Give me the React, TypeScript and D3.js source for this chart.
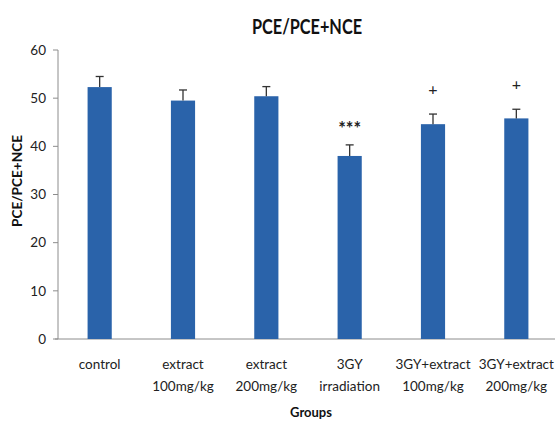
import React, { useEffect, useRef } from "react"
import * as d3 from "d3"

const groups = ["control", "extract 100mg/kg", "extract 200mg/kg", "3GY irradiation", "3GY+extract 100mg/kg", "3GY+extract 200mg/kg"]
const labelLines = [["control"], ["extract", "100mg/kg"], ["extract", "200mg/kg"], ["3GY", "irradiation"], ["3GY+extract", "100mg/kg"], ["3GY+extract", "200mg/kg"]]
const means = [52.3, 49.5, 50.4, 38.0, 44.6, 45.8]
const errors = [2.2, 2.2, 2.0, 2.3, 2.1, 1.9]
const marks = ["", "", "", "***", "+", "+"]
const yTicks = [0, 10, 20, 30, 40, 50, 60]

const W = 555
const H = 421
const font = "Lato, 'Open Sans', sans-serif"

export default function App() {
    const ref = useRef<SVGSVGElement>(null)

    useEffect(() => {
        const svg = d3.select(ref.current)
        svg.selectAll("*").remove()

        const left = 58
        const y = d3.scaleLinear().domain([0, 60]).range([339, 50])
        const x = d3.scaleBand().domain(groups).range([left, 558]).paddingInner(0.71).paddingOuter(0.355)

        svg.append("text")
            .attr("x", 307).attr("y", 34)
            .attr("text-anchor", "middle")
            .attr("font-family", font).attr("font-weight", "bold").attr("font-size", 20)
            .attr("textLength", 110).attr("lengthAdjust", "spacingAndGlyphs")
            .attr("fill", "#111")
            .text("PCE/PCE+NCE")

        // y axis
        const yAxis = svg.append("g").attr("transform", `translate(${left},0)`)
        yAxis.append("line").attr("x1", 0).attr("x2", 0).attr("y1", y(60)).attr("y2", y(0)).attr("stroke", "#8c8c8c")
        yAxis.selectAll("line.tick").data(yTicks).enter().append("line")
            .attr("class", "tick")
            .attr("x1", -5).attr("x2", 0)
            .attr("y1", d => y(d)).attr("y2", d => y(d))
            .attr("stroke", "#8c8c8c")
        yAxis.selectAll("text").data(yTicks).enter().append("text")
            .attr("x", -12).attr("y", d => y(d)).attr("dy", "0.35em")
            .attr("text-anchor", "end")
            .attr("font-family", font).attr("font-size", 13.5).attr("fill", "#222")
            .text(d => d)

        // x axis line
        svg.append("line").attr("x1", left - 3).attr("x2", W).attr("y1", y(0)).attr("y2", y(0)).attr("stroke", "#8c8c8c")

        // bars
        svg.append("g").selectAll("rect").data(means).enter().append("rect")
            .attr("x", (d, i) => x(groups[i])!)
            .attr("width", x.bandwidth())
            .attr("y", d => y(d))
            .attr("height", d => y(0) - y(d))
            .attr("fill", "#2a63aa")

        // error bars
        const eb = svg.append("g").attr("stroke", "#333").attr("stroke-width", 1.3)
        means.forEach((m, i) => {
            const cx = x(groups[i])! + x.bandwidth() / 2
            eb.append("line").attr("x1", cx).attr("x2", cx).attr("y1", y(m)).attr("y2", y(m + errors[i]))
            eb.append("line").attr("x1", cx - 4).attr("x2", cx + 4).attr("y1", y(m + errors[i])).attr("y2", y(m + errors[i]))
        })

        // significance marks
        svg.append("g").selectAll("text").data(marks).enter().append("text")
            .attr("x", (d, i) => x(groups[i])! + x.bandwidth() / 2)
            .attr("y", (d, i) => y(means[i] + errors[i]) - (d === "***" ? 10 : 19))
            .attr("text-anchor", "middle")
            .attr("font-family", font).attr("font-size", d => (d === "***" ? 18 : 16))
            .attr("font-weight", d => (d === "***" ? "bold" : "normal"))
            .attr("fill", "#222")
            .text(d => d)

        // category labels
        const xt = svg.append("g")
        labelLines.forEach((lines, i) => {
            const cx = x(groups[i])! + x.bandwidth() / 2
            lines.forEach((t, j) => {
                xt.append("text")
                    .attr("x", cx).attr("y", 369 + j * 22)
                    .attr("text-anchor", "middle")
                    .attr("font-family", font).attr("font-size", 13.5).attr("fill", "#222")
                    .text(t)
            })
        })

        svg.append("text")
            .attr("x", 311).attr("y", 417)
            .attr("text-anchor", "middle")
            .attr("font-family", font).attr("font-weight", "bold").attr("font-size", 13).attr("fill", "#111")
            .text("Groups")

        svg.append("text")
            .attr("transform", `translate(22,181) rotate(-90)`)
            .attr("text-anchor", "middle")
            .attr("font-family", font).attr("font-weight", "bold").attr("font-size", 14)
            .attr("textLength", 92).attr("lengthAdjust", "spacingAndGlyphs")
            .attr("fill", "#111")
            .text("PCE/PCE+NCE")
    }, [])

    return (
        <div style={{ position: "absolute", left: 0, top: 0 }}>
            <svg ref={ref} width={W} height={H} style={{ display: "block", background: "#fff" }} />
        </div>
    )
}
